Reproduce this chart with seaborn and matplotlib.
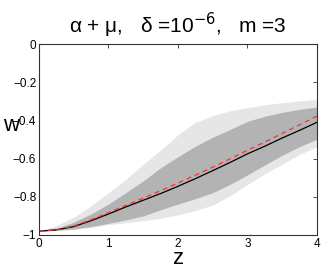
import numpy as np
import matplotlib
matplotlib.use("Agg")
import matplotlib.pyplot as plt
import seaborn as sns

# redshift grid
z = [0, 0.25, 0.5, 0.75, 1, 1.25, 1.5, 1.75, 2, 2.25, 2.5, 2.75, 3, 3.25, 3.5, 3.75, 4]

# mean reconstruction and fiducial model
w_mean = [-0.98, -0.973, -0.956, -0.925, -0.89, -0.853, -0.818, -0.783, -0.745,
          -0.705, -0.663, -0.62, -0.575, -0.535, -0.492, -0.452, -0.41]
w_true = [-0.98, -0.972, -0.953, -0.92, -0.883, -0.845, -0.807, -0.768, -0.728,
          -0.687, -0.645, -0.601, -0.556, -0.513, -0.468, -0.423, -0.378]

# 1-sigma band
w_1s_hi = [-0.98, -0.965, -0.933, -0.89, -0.838, -0.778, -0.717, -0.648, -0.59,
           -0.535, -0.488, -0.447, -0.405, -0.378, -0.358, -0.342, -0.33]
w_1s_lo = [-0.98, -0.975, -0.968, -0.956, -0.939, -0.921, -0.9, -0.868, -0.838,
           -0.81, -0.778, -0.735, -0.685, -0.633, -0.582, -0.537, -0.499]

# 2-sigma band
w_2s_hi = [-0.98, -0.951, -0.907, -0.847, -0.778, -0.708, -0.63, -0.555, -0.475,
           -0.41, -0.375, -0.35, -0.333, -0.318, -0.307, -0.298, -0.29]
w_2s_lo = [-0.98, -0.977, -0.972, -0.96, -0.946, -0.936, -0.925, -0.912, -0.895,
           -0.872, -0.843, -0.795, -0.735, -0.68, -0.628, -0.578, -0.538]

yticks = [0, -0.2, -0.4, -0.6, -0.8, -1]
yticklabels = ["0", "\u22120.2", "\u22120.4", "\u22120.6", "\u22120.8", "\u22121"]
xticks = [0, 1, 2, 3, 4]

sns.set_style("white")
plt.rcParams["font.family"] = ["Liberation Sans", "DejaVu Sans"]
plt.rcParams["text.color"] = "black"

fig = plt.figure(figsize=(3.23, 2.73), dpi=100)
ax = fig.add_axes([0.1207, 0.1392, 0.8607, 0.6996])

ax.fill_between(z, w_2s_lo, w_2s_hi, color="#e6e6e6", linewidth=0)
ax.fill_between(z, w_1s_lo, w_1s_hi, color="#b3b3b3", linewidth=0)
sns.lineplot(x=z, y=w_mean, ax=ax, color="black", linewidth=0.9)
sns.lineplot(x=z, y=w_true, ax=ax, color="#ff3030", linewidth=0.9, linestyle=(0, (4, 3)))

ax.set_xlim(0, 4)
ax.set_ylim(-1, 0)
ax.set_xticks(xticks)
ax.set_xticklabels([str(t) for t in xticks], fontsize=8.5)
ax.set_yticks(yticks)
ax.set_yticklabels(yticklabels, fontsize=8.5)
ax.tick_params(direction="in", length=3, width=0.6, top=True, right=True, pad=2,
               color="#333333", labelcolor="black")
for s in ax.spines.values():
    s.set_visible(True)
    s.set_color("#333333")
    s.set_linewidth(0.8)

ax.set_xlabel("z", fontsize=16, labelpad=-1, color="black")
ax.set_ylabel("w", fontsize=16, rotation=0, ha="center", va="center", color="black")
ax.yaxis.set_label_coords(-0.1, 0.575)
ax.set_title("\u03b1 + \u03bc,   \u03b4 =10$^{\u22126}$,   m =3", fontsize=15, pad=8,
             color="black")

fig.savefig("out.png", dpi=100)
